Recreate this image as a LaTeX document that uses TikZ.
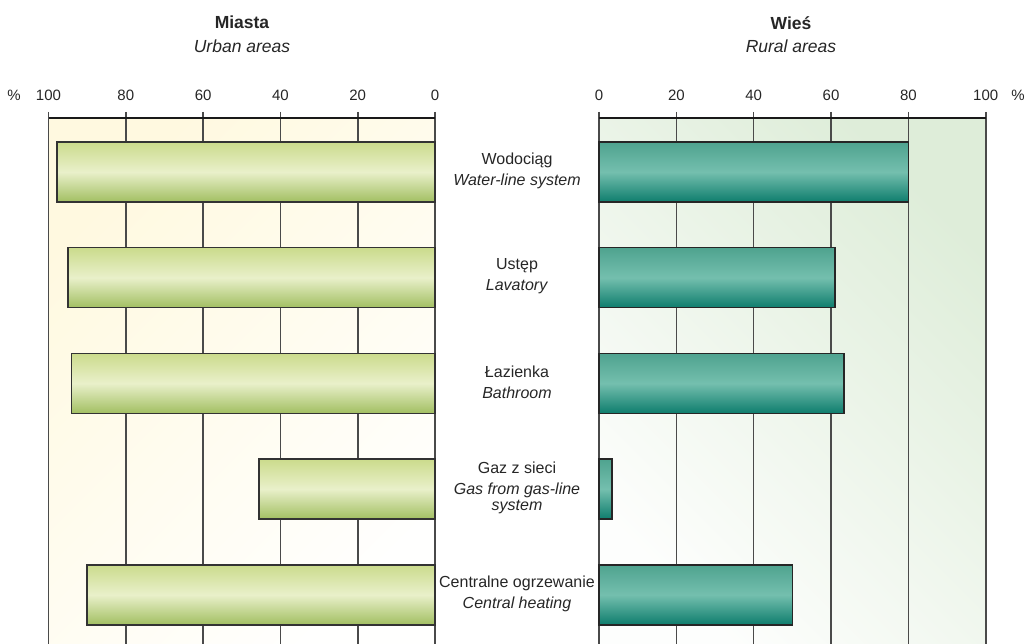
\documentclass[tikz,border=0pt]{standalone}
\usepackage{fontspec}
\setmainfont{Liberation Sans}
\usepackage{tikz}
\usetikzlibrary{
    calc,
    positioning
}

\definecolor{urbanbg}{HTML}{FFF9E0}
\definecolor{ruralbg}{HTML}{DEEDD9}
\definecolor{urbantop}{HTML}{CBDB8C}
\definecolor{urbanmid}{HTML}{E9F0CA}
\definecolor{urbanbot}{HTML}{A2BF62}
\definecolor{ruraltop}{HTML}{4FA38F}
\definecolor{ruralmid}{HTML}{74BFAE}
\definecolor{ruralbot}{HTML}{0E7D6D}
\definecolor{gridgray}{HTML}{4A4A4A}

\tikzset{
    gridline/.style={draw=gridgray, line width=1.6pt},
    axisline/.style={draw=black!90, line width=1.5pt},
    urbanbar/.style={draw=black!80, line width=1.5pt, top color=urbantop, bottom color=urbanbot, middle color=urbanmid},
    ruralbar/.style={draw=black!85, line width=1.5pt, top color=ruraltop, bottom color=ruralbot, middle color=ruralmid},
    ticklabel/.style={font=\fontsize{15}{17}\selectfont, text=black!85},
    headtitle/.style={font=\fontsize{17.5}{20}\selectfont\bfseries, text=black!85},
    headsub/.style={font=\fontsize{17.5}{20}\selectfont\itshape, text=black!85},
    catlabel/.style={align=center, inner sep=0pt, font=\fontsize{16}{17}\selectfont, text=black!85}
}

\begin{document}
\begin{tikzpicture}[x=1pt, y=-1pt]
    \useasboundingbox (0,0) rectangle (1026,644);
    % panels
    \shade[top color=urbanbg, bottom color=white!96!urbanbg, shading angle=45]
        (48.7,118) rectangle (435,644);
    \shade[top color=ruralbg, bottom color=white!94!ruralbg, shading angle=-45]
        (599,118) rectangle (985.7,644);
    % grid and tick labels
    \foreach \v in {0,20,...,100} {
        \draw[gridline] ({435-3.865*\v},112) -- ({435-3.865*\v},644);
        \node[ticklabel] (ut\v) at ({435-3.865*\v},95) {\v};
        \draw[gridline] ({599+3.867*\v},112) -- ({599+3.867*\v},644);
        \node[ticklabel] (rt\v) at ({599+3.867*\v},95) {\v};
    }
    \draw[axisline] (48.7,118) -- (435,118);
    \draw[axisline] (599,118) -- (985.7,118);
    \node[ticklabel] (upct) at (14,95) {\%};
    \node[ticklabel] (rpct) at (1018,95) {\%};
    % bars
    \foreach \u/\r [count=\i from 0] in {97.8/80, 95.0/61.0, 94.0/63.3, 45.6/3.4, 90.0/50.1} {
        \draw[urbanbar] ({435-3.865*\u},{142+105.7*\i}) rectangle (435,{202+105.7*\i});
        \draw[ruralbar] (599,{142+105.7*\i}) rectangle ({599+3.867*\r},{202+105.7*\i});
    }
    % headers
    \node[headtitle] (urban) at (242,22.7) {Miasta};
    \node[headsub] (urbansub) at (242,46.7) {Urban areas};
    \node[headtitle] (rural) at (791,22.7) {Wieś};
    \node[headsub] (ruralsub) at (791,46.7) {Rural areas};
    % categories
    \node[catlabel] (water) at (517,171) {Wodociąg\\[4pt]\textit{Water-line system}};
    \node[catlabel] (lav) at (517,276.5) {Ustęp\\[4pt]\textit{Lavatory}};
    \node[catlabel] (bath) at (517,382) {Łazienka\\[4pt]\textit{Bathroom}};
    \node[catlabel] (gas) at (517,488) {Gaz z sieci\\[4pt]\textit{Gas from gas-line}\\[-1pt]\textit{system}};
    \node[catlabel] (heat) at (517,594) {Centralne ogrzewanie\\[4pt]\textit{Central heating}};
\end{tikzpicture}
\end{document}
